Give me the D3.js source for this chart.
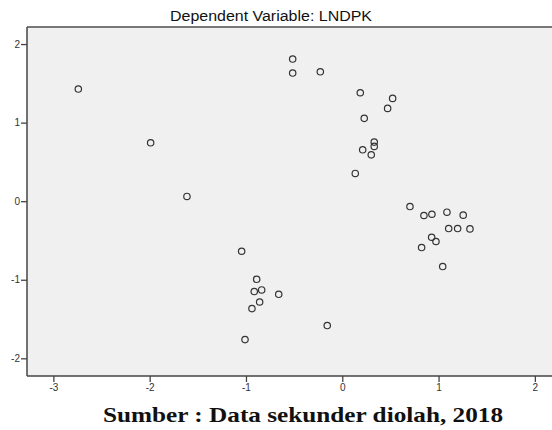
<!DOCTYPE html>
<html><head><meta charset="utf-8">
<script src="https://cdn.jsdelivr.net/npm/d3@7"></script>
<style>body{margin:0;background:#fff}svg{display:block}</style>
</head><body>
<svg id="c" width="552" height="430"></svg>
<script>
const title = "Dependent Variable: LNDPK";
const caption = "Sumber : Data sekunder diolah, 2018";
const xTicks = [-3, -2, -1, 0, 1, 2];
const yTicks = [-2, -1, 0, 1, 2];
const xs = [-2.741,-1.990,-1.613,-0.515,-0.515,-0.228,0.187,0.523,0.471,0.228,0.332,0.332,0.212,0.301,0.135,
  0.703,0.848,0.931,1.087,1.256,1.105,1.198,1.326,0.928,0.973,0.824,1.043,
  -1.045,-0.889,-0.914,-0.837,-0.660,-0.858,-0.938,-0.156,-1.010];
const ys = [1.427,0.743,0.060,1.809,1.631,1.647,1.380,1.308,1.181,1.054,0.752,0.697,0.654,0.590,0.353,
  -0.068,-0.182,-0.166,-0.140,-0.178,-0.348,-0.348,-0.353,-0.459,-0.513,-0.590,-0.832,
  -0.637,-0.994,-1.150,-1.130,-1.185,-1.283,-1.367,-1.583,-1.762];

const svg = d3.select("#c");
const L = 27, T = 27, R = 552, B = 376;
const x = d3.scaleLinear().domain([-3.274, 2.178]).range([L, R]);
const y = d3.scaleLinear().domain([-2.225, 2.217]).range([B, T]);

svg.append("rect").attr("x", L).attr("y", T).attr("width", R - L).attr("height", B - T).attr("fill", "#f0f0f0");

svg.append("text").attr("x", 271).attr("y", 21).attr("text-anchor", "middle")
  .attr("font-family", "Liberation Sans, Arial, sans-serif").attr("font-size", 14).attr("fill", "#111")
  .attr("textLength", 202).attr("lengthAdjust", "spacingAndGlyphs")
  .text(title);

const fmt = d => String(d);
const gx = svg.append("g").attr("transform", `translate(0,${B})`)
  .call(d3.axisBottom(x).tickValues(xTicks).tickSize(6).tickPadding(2).tickSizeOuter(0).tickFormat(fmt));
const gy = svg.append("g").attr("transform", `translate(${L},0)`)
  .call(d3.axisLeft(y).tickValues(yTicks).tickSize(6).tickPadding(1).tickSizeOuter(0).tickFormat(fmt));
[gx, gy].forEach(g => {
  g.select(".domain").remove();
  g.selectAll(".tick line").attr("stroke", "#444").attr("stroke-width", 1.3);
  g.selectAll(".tick text").attr("font-family", "Liberation Sans, Arial, sans-serif").attr("font-size", 10).attr("fill", "#333");
});

svg.append("line").attr("x1", L).attr("x2", R).attr("y1", T).attr("y2", T).attr("stroke", "#777").attr("stroke-width", 2);
svg.append("line").attr("x1", L).attr("x2", R).attr("y1", B).attr("y2", B).attr("stroke", "#444").attr("stroke-width", 1.5);
svg.append("line").attr("x1", L).attr("x2", L).attr("y1", T).attr("y2", B).attr("stroke", "#444").attr("stroke-width", 1.5);

svg.append("g").selectAll("circle").data(xs.map((v, i) => [v, ys[i]])).join("circle")
  .attr("cx", d => x(d[0])).attr("cy", d => y(d[1])).attr("r", 3.2)
  .attr("fill", "none").attr("stroke", "#333").attr("stroke-width", 1.2);

svg.append("text").attr("x", 303).attr("y", 422).attr("text-anchor", "middle")
  .attr("font-family", "Liberation Serif, serif").attr("font-weight", "bold").attr("font-size", 21)
  .attr("textLength", 400).attr("lengthAdjust", "spacingAndGlyphs").attr("fill", "#111")
  .text(caption);
</script>
</body></html>
